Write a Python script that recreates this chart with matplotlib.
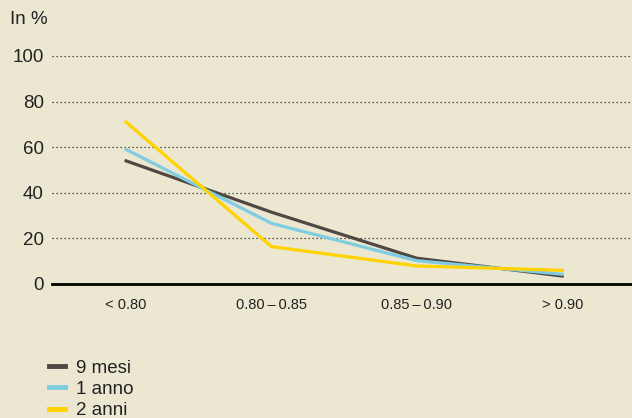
import matplotlib.pyplot as plt

plt.rcParams['font.family'] = ['Liberation Sans', 'DejaVu Sans']

# dati
categorie = ['< 0.80', '0.80\u2009–\u20090.85', '0.85\u2009–\u20090.90', '> 0.90']
nove_mesi = [54, 31.5, 11.3, 3.5]
un_anno = [59, 26.6, 10.2, 4.3]
due_anni = [71, 16.4, 7.9, 6]
serie = ['9 mesi', '1 anno', '2 anni']
colori = ['#4f4843', '#7ecde0', '#ffd200']
yticks = [0, 20, 40, 60, 80, 100]

sfondo = '#ece7d1'
fig = plt.figure(figsize=(6.32, 4.18), dpi=100, facecolor=sfondo)
ax = fig.add_axes([52 / 632, 134 / 418, 580 / 632, 228 / 418])
ax.set_facecolor(sfondo)

x = range(len(categorie))
for vals, nome, col in zip([nove_mesi, un_anno, due_anni], serie, colori):
    ax.plot(x, vals, color=col, lw=2.3, label=nome, solid_joinstyle='miter', clip_on=False)

ax.set_xlim(-0.51, 3.48)
ax.set_ylim(0, 100)
for s in ax.spines.values():
    s.set_visible(False)

# griglia tratteggiata
for v in yticks[1:]:
    ax.axhline(v, color='#222222', lw=0.9, ls=(0, (1, 2.2)), zorder=0)
ax.axhline(0, color='black', lw=2, clip_on=False, zorder=5)

ax.set_yticks(yticks)
ax.set_xticks(list(x))
ax.set_xticklabels(categorie)
ax.tick_params(axis='y', length=0, pad=6, labelsize=13.5, colors='#222222')
ax.tick_params(axis='x', length=0, pad=10, labelsize=10.5, colors='#222222')

fig.text(10 / 632, 1 - 20 / 418, 'In %', fontsize=13.5, va='center', ha='left', color='#222222')

leg = fig.legend(loc='upper left', bbox_to_anchor=(42 / 632, 1 - 352 / 418),
                 frameon=False, fontsize=13.5, handlelength=0.8, handletextpad=0.6,
                 labelspacing=0.22, borderaxespad=0)
for h in leg.legend_handles:
    h.set_linewidth(3.5)
for t in leg.get_texts():
    t.set_color('#222222')

fig.savefig('out.png', dpi=100, facecolor=sfondo)
